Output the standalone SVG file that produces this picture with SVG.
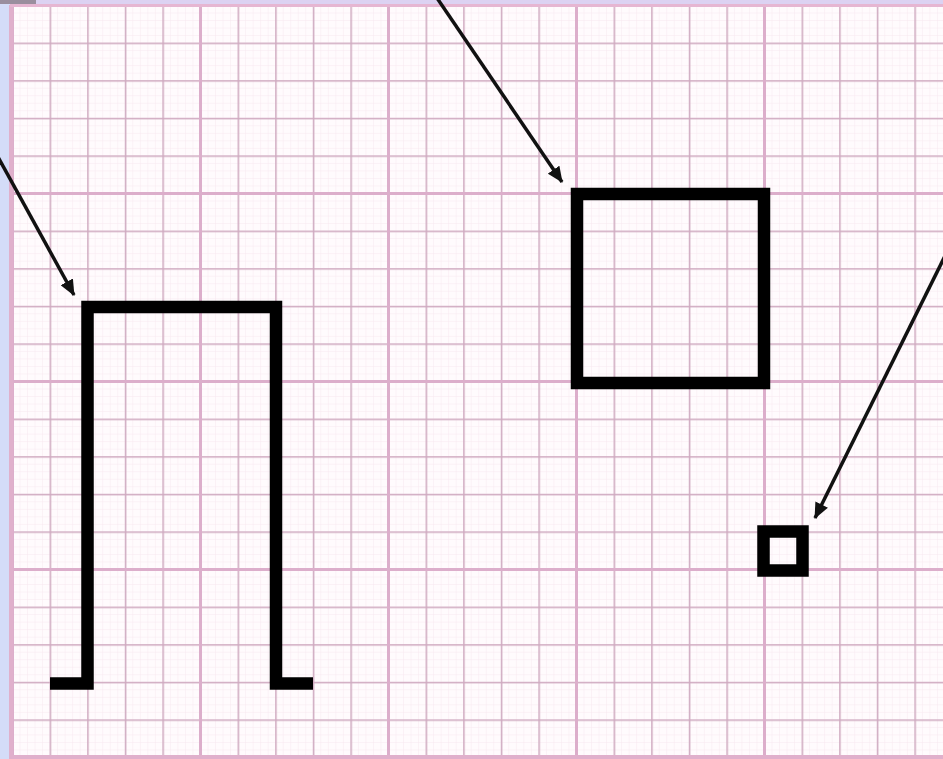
<svg xmlns="http://www.w3.org/2000/svg" width="943" height="759" viewBox="0 0 943 759">
<defs>
<pattern id="fine" x="12" y="5" width="7.52" height="7.52" patternUnits="userSpaceOnUse">
<path d="M0 0V7.52M0 0H7.52" stroke="#f8e8f0" stroke-width="1" fill="none"/>
</pattern>
<pattern id="small" x="12" y="5" width="37.6" height="37.6" patternUnits="userSpaceOnUse">
<path d="M0.75 0V37.6M0 0.75H37.6" stroke="#cfaac0" stroke-width="1.5" fill="none"/>
</pattern>
<pattern id="major" x="11" y="4" width="188" height="188" patternUnits="userSpaceOnUse">
<path d="M1.5 0V188M0 1.5H188" stroke="#dcaecb" stroke-width="3" fill="none"/>
</pattern>
<marker id="ahb" markerWidth="16" markerHeight="14" refX="15" refY="7" orient="auto" markerUnits="userSpaceOnUse" viewBox="0 0 16 14">
<path d="M0 0L16 7L0 14z" fill="#111"/>
</marker>
<style>
.trace{fill:none;stroke:#000;stroke-width:12.5;stroke-linejoin:miter;stroke-linecap:butt}
.conn{fill:none;stroke:#111;stroke-width:3.5;marker-end:url(#ahb)}
</style>
</defs>
<rect width="943" height="759" fill="#fffbfd"/>
<rect width="943" height="759" fill="url(#fine)"/>
<rect width="943" height="759" fill="url(#small)"/>
<rect width="943" height="759" fill="url(#major)"/>
<rect x="0" y="0" width="943" height="5" fill="#dcd2f2"/>
<rect x="0" y="0" width="10" height="759" fill="#d4dcf8"/>
<rect x="0" y="0" width="36" height="4" fill="#9a8e9e"/>
<rect x="9" y="5" width="4" height="754" fill="#e0b0cc"/>
<rect x="10" y="4" width="933" height="3" fill="#e6b6d2"/>
<rect x="10" y="755" width="933" height="4" fill="#e0b0cc"/>
<g id="pulse">
<path class="trace" d="M50 683.5H87.5V307H276V683.5H313"/>
</g>
<g id="big-square">
<rect class="trace" x="577" y="194" width="187" height="189"/>
</g>
<g id="small-square">
<rect class="trace" x="763.5" y="531.5" width="39" height="39"/>
</g>
<g id="connectors">
<line class="conn" x1="-2" y1="157" x2="74" y2="295"/>
<line class="conn" x1="437" y1="-2" x2="562" y2="182"/>
<line class="conn" x1="945" y1="256" x2="815" y2="518"/>
</g>
</svg>
